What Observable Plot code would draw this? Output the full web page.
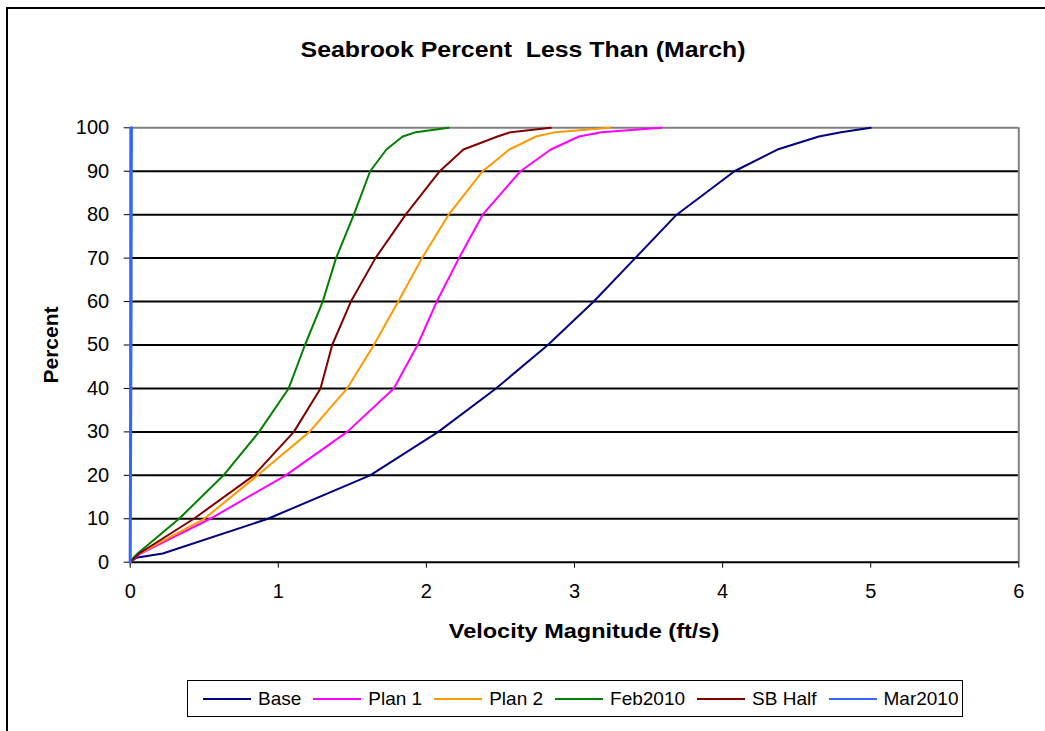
<!DOCTYPE html>
<html><head><meta charset="utf-8">
<script src="https://cdn.jsdelivr.net/npm/d3@7"></script>
<script src="https://cdn.jsdelivr.net/npm/@observablehq/plot@0.6"></script>
<style>
body{margin:0;background:#fff;font-family:"Liberation Sans",Arial,sans-serif;}
#wrap{position:relative;width:1045px;height:731px;overflow:hidden;background:#fff;}
#frame{position:absolute;left:6px;top:7px;width:1200px;height:900px;border:2px solid #000;box-sizing:border-box;}
#title{position:absolute;left:523px;top:37px;transform:translateX(-50%) scaleX(1.13);font-weight:bold;font-size:22px;white-space:nowrap;}
#xlabel{position:absolute;left:584px;top:619px;transform:translateX(-50%) scaleX(1.12);font-weight:bold;font-size:21px;white-space:nowrap;}
#ylabel{position:absolute;left:51px;top:345px;transform:translate(-50%,-50%) rotate(-90deg);font-weight:bold;font-size:21px;white-space:nowrap;}
#legend{position:absolute;left:187px;top:680px;width:776px;height:37px;border:1px solid #000;box-sizing:border-box;display:flex;align-items:center;padding-left:15px;gap:12px;font-size:19px;white-space:nowrap;}
.item{display:flex;align-items:center;gap:7px;flex-shrink:0;}
.item span{white-space:nowrap;}
#chart{position:absolute;left:0;top:0;}
</style></head>
<body>
<div id="wrap">
<div id="frame"></div>
<div id="chart"></div>
<div id="title">Seabrook Percent&nbsp; Less Than (March)</div>
<div id="xlabel">Velocity Magnitude (ft/s)</div>
<div id="ylabel">Percent</div>
<div id="legend"></div>
</div>
<script>
const percentLevels = [0,1,2,10,20,30,40,50,60,70,80,90,95,98,99,100];
const base    = [0,0.04,0.22,0.93,1.62,2.08,2.47,2.82,3.13,3.41,3.69,4.08,4.37,4.65,4.80,5.00];
const plan1   = [0,0.03,0.07,0.54,1.05,1.465,1.78,1.94,2.07,2.22,2.38,2.635,2.84,3.03,3.18,3.59];
const plan2   = [0,0.03,0.06,0.50,0.86,1.21,1.465,1.645,1.81,1.97,2.15,2.38,2.56,2.74,2.87,3.24];
const feb2010 = [0,0.02,0.05,0.33,0.63,0.87,1.07,1.18,1.30,1.39,1.51,1.62,1.73,1.84,1.93,2.15];
const sbHalf  = [0,0.03,0.06,0.43,0.835,1.105,1.285,1.364,1.49,1.656,1.86,2.09,2.25,2.48,2.57,2.84];
const mar2010 = [0,0,0,0.001,0.002,0.003,0.004,0.005,0.006,0.006,0.007,0.007,0.008,0.008,0.008,0.009];
const seriesNames = ["Base","Plan 1","Plan 2","Feb2010","SB Half","Mar2010"];
const seriesColors = ["#000080","#FF00FF","#FF9900","#008000","#800000","#3366FF"];
const xTicks = [0,1,2,3,4,5,6];
const yTicks = [0,10,20,30,40,50,60,70,80,90,100];

const seriesValues = [base, plan1, plan2, feb2010, sbHalf, mar2010];
const rows = [];
seriesNames.forEach((name, i) => {
  seriesValues[i].forEach((v, j) => rows.push({series: name, x: v, y: percentLevels[j]}));
});

const chart = Plot.plot({
  width: 1045, height: 731,
  marginLeft: 129.7, marginRight: 26.7, marginTop: 127.3, marginBottom: 169.3,
  style: {fontFamily: '"Liberation Sans", Arial, sans-serif', fontSize: "20px", color: "#000", background: "transparent"},
  x: {domain: [0, 6]},
  y: {domain: [0, 100]},
  color: {domain: seriesNames, range: seriesColors},
  marks: [
    Plot.ruleY(yTicks.filter(d => d > 0 && d < 100), {stroke: "#000", strokeWidth: 2}),
    Plot.ruleY([100], {stroke: "#808080", strokeWidth: 2}),
    Plot.ruleX([6], {stroke: "#808080", strokeWidth: 2}),
    Plot.ruleX([0], {stroke: "#808080", strokeWidth: 2}),
    Plot.axisY({ticks: yTicks, tickSize: 6, tickPadding: 15, tickFormat: d3.format("d"), label: null, fontSize: 20, stroke: "#000"}),
    Plot.axisX({ticks: xTicks, tickSize: 6, tickPadding: 16, tickFormat: d3.format("d"), label: null, fontSize: 20, stroke: "#000"}),
    Plot.ruleY([0], {stroke: "#000", strokeWidth: 2}),
    Plot.line(rows, {x: "x", y: "y", z: "series", stroke: "series", strokeWidth: 2, curve: "linear"})
  ]
});
chart.querySelectorAll('[aria-label="line"] path').forEach(p => {
  if (p.getAttribute("stroke") === "#3366FF") p.setAttribute("stroke-width", 3);
});
document.getElementById("chart").appendChild(chart);

const legend = document.getElementById("legend");
seriesNames.forEach((name, i) => {
  const it = document.createElement("div");
  it.className = "item";
  it.innerHTML = `<svg width="48" height="4"><line x1="0" x2="48" y1="2" y2="2" stroke="${seriesColors[i]}" stroke-width="2"/></svg><span>${name}</span>`;
  legend.appendChild(it);
});
</script>
</body></html>
